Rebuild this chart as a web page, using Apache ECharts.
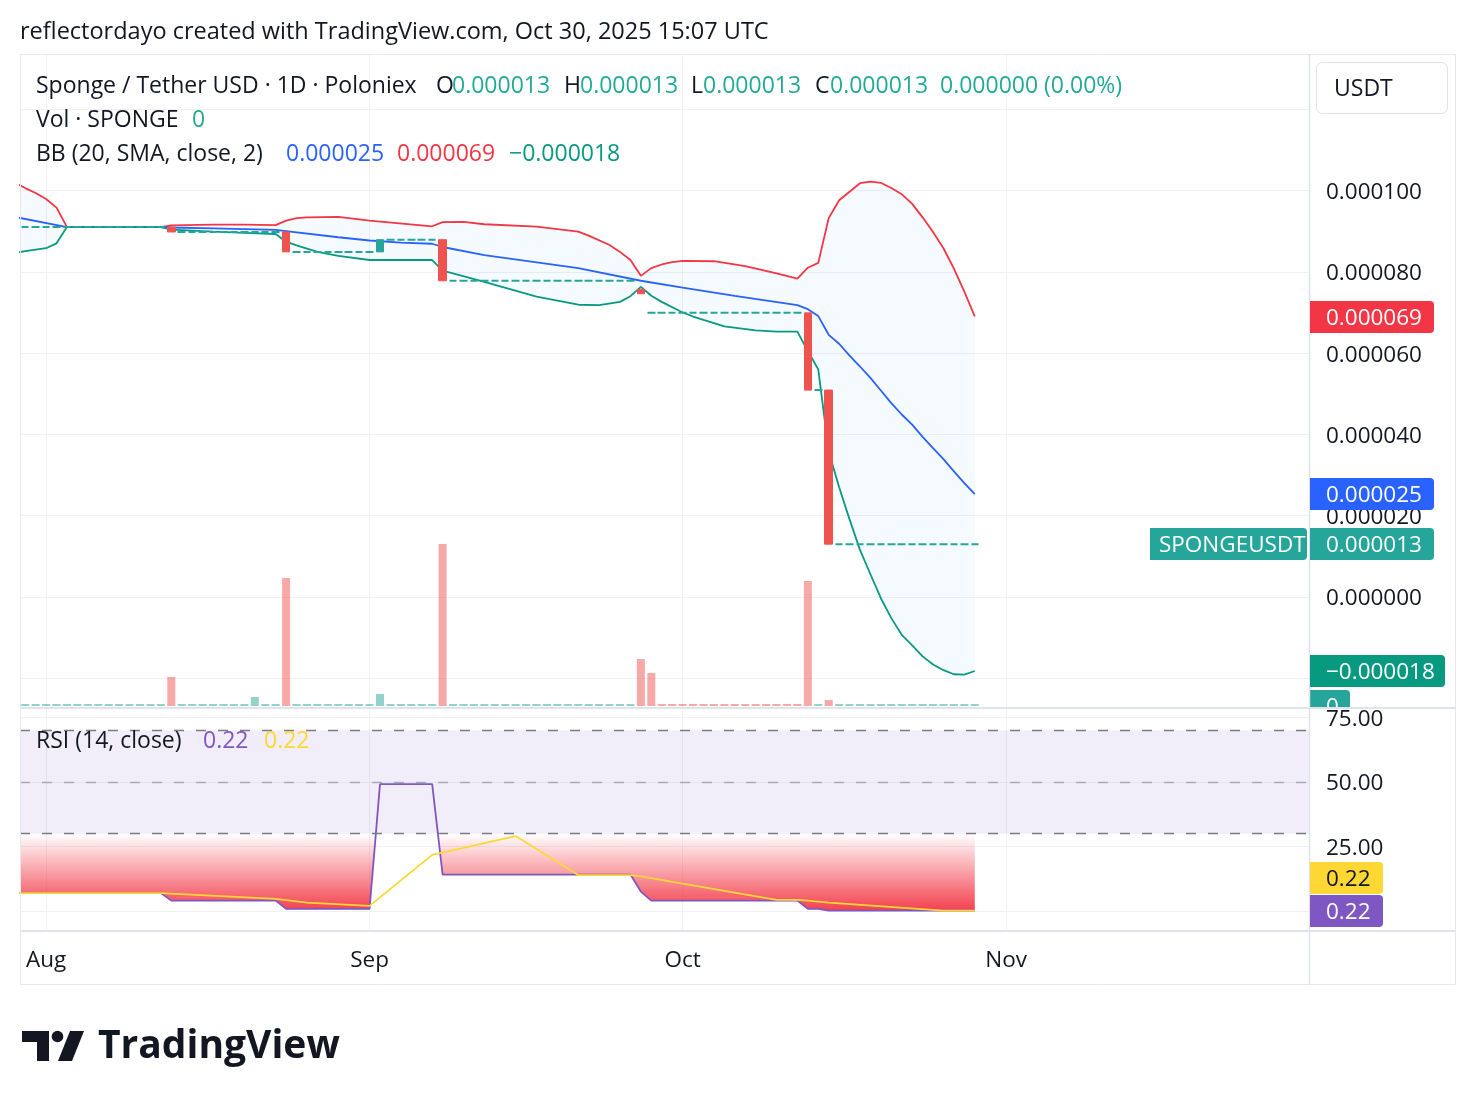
<!DOCTYPE html>
<html><head><meta charset="utf-8">
<script src="https://cdn.jsdelivr.net/npm/echarts@6/dist/echarts.min.js"></script>
<style>html,body{margin:0;padding:0;background:#fff}#c{width:1476px;height:1106px}</style>
</head><body><div id="c"></div><script>
// ---------------- DATA ----------------
const candleDates = [
'2025-07-30','2025-07-31',
'2025-08-01','2025-08-02','2025-08-03','2025-08-04','2025-08-05','2025-08-06','2025-08-07','2025-08-08','2025-08-09','2025-08-10','2025-08-11','2025-08-12','2025-08-13','2025-08-14','2025-08-15','2025-08-16','2025-08-17','2025-08-18','2025-08-19','2025-08-20','2025-08-21','2025-08-22','2025-08-23','2025-08-24','2025-08-25','2025-08-26','2025-08-27','2025-08-28','2025-08-29','2025-08-30','2025-08-31',
'2025-09-01','2025-09-02','2025-09-03','2025-09-04','2025-09-05','2025-09-06','2025-09-07','2025-09-08','2025-09-09','2025-09-10','2025-09-11','2025-09-12','2025-09-13','2025-09-14','2025-09-15','2025-09-16','2025-09-17','2025-09-18','2025-09-19','2025-09-20','2025-09-21','2025-09-22','2025-09-23','2025-09-24','2025-09-25','2025-09-26','2025-09-27','2025-09-28','2025-09-29','2025-09-30',
'2025-10-01','2025-10-02','2025-10-03','2025-10-04','2025-10-05','2025-10-06','2025-10-07','2025-10-08','2025-10-09','2025-10-10','2025-10-11','2025-10-12','2025-10-13','2025-10-14','2025-10-15','2025-10-16','2025-10-17','2025-10-18','2025-10-19','2025-10-20','2025-10-21','2025-10-22','2025-10-23','2025-10-24','2025-10-25','2025-10-26','2025-10-27','2025-10-28','2025-10-29'
];
const opens = [
91.0e-6,91.0e-6,
91.0e-6,91.0e-6,91.0e-6,91.0e-6,91.0e-6,91.0e-6,91.0e-6,91.0e-6,91.0e-6,91.0e-6,91.0e-6,91.0e-6,91.0e-6,89.8e-6,89.8e-6,89.8e-6,89.8e-6,89.8e-6,89.8e-6,89.8e-6,89.8e-6,89.8e-6,89.8e-6,89.8e-6,84.9e-6,84.9e-6,84.9e-6,84.9e-6,84.9e-6,84.9e-6,84.9e-6,
84.9e-6,84.9e-6,87.9e-6,87.9e-6,87.9e-6,87.9e-6,87.9e-6,87.9e-6,77.8e-6,77.8e-6,77.8e-6,77.8e-6,77.8e-6,77.8e-6,77.8e-6,77.8e-6,77.8e-6,77.8e-6,77.8e-6,77.8e-6,77.8e-6,77.8e-6,77.8e-6,77.8e-6,77.8e-6,77.8e-6,75.7e-6,69.9e-6,69.9e-6,69.9e-6,
69.9e-6,69.9e-6,69.9e-6,69.9e-6,69.9e-6,69.9e-6,69.9e-6,69.9e-6,69.9e-6,69.9e-6,69.9e-6,69.9e-6,69.9e-6,50.9e-6,50.9e-6,13.0e-6,13.0e-6,13.0e-6,13.0e-6,13.0e-6,13.0e-6,13.0e-6,13.0e-6,13.0e-6,13.0e-6,13.0e-6,13.0e-6,13.0e-6,13.0e-6
];
const closes = [
91.0e-6,91.0e-6,
91.0e-6,91.0e-6,91.0e-6,91.0e-6,91.0e-6,91.0e-6,91.0e-6,91.0e-6,91.0e-6,91.0e-6,91.0e-6,91.0e-6,89.8e-6,89.8e-6,89.8e-6,89.8e-6,89.8e-6,89.8e-6,89.8e-6,89.8e-6,89.8e-6,89.8e-6,89.8e-6,84.9e-6,84.9e-6,84.9e-6,84.9e-6,84.9e-6,84.9e-6,84.9e-6,84.9e-6,
84.9e-6,87.9e-6,87.9e-6,87.9e-6,87.9e-6,87.9e-6,87.9e-6,77.8e-6,77.8e-6,77.8e-6,77.8e-6,77.8e-6,77.8e-6,77.8e-6,77.8e-6,77.8e-6,77.8e-6,77.8e-6,77.8e-6,77.8e-6,77.8e-6,77.8e-6,77.8e-6,77.8e-6,77.8e-6,77.8e-6,74.6e-6,69.9e-6,69.9e-6,69.9e-6,
69.9e-6,69.9e-6,69.9e-6,69.9e-6,69.9e-6,69.9e-6,69.9e-6,69.9e-6,69.9e-6,69.9e-6,69.9e-6,69.9e-6,50.9e-6,50.9e-6,13.0e-6,13.0e-6,13.0e-6,13.0e-6,13.0e-6,13.0e-6,13.0e-6,13.0e-6,13.0e-6,13.0e-6,13.0e-6,13.0e-6,13.0e-6,13.0e-6,13.0e-6
];
const highs = [
91.0e-6,91.0e-6,
91.0e-6,91.0e-6,91.0e-6,91.0e-6,91.0e-6,91.0e-6,91.0e-6,91.0e-6,91.0e-6,91.0e-6,91.0e-6,91.0e-6,91.0e-6,89.8e-6,89.8e-6,89.8e-6,89.8e-6,89.8e-6,89.8e-6,89.8e-6,89.8e-6,89.8e-6,89.8e-6,89.8e-6,84.9e-6,84.9e-6,84.9e-6,84.9e-6,84.9e-6,84.9e-6,84.9e-6,
84.9e-6,87.9e-6,87.9e-6,87.9e-6,87.9e-6,87.9e-6,87.9e-6,87.9e-6,77.8e-6,77.8e-6,77.8e-6,77.8e-6,77.8e-6,77.8e-6,77.8e-6,77.8e-6,77.8e-6,77.8e-6,77.8e-6,77.8e-6,77.8e-6,77.8e-6,77.8e-6,77.8e-6,77.8e-6,77.8e-6,75.7e-6,69.9e-6,69.9e-6,69.9e-6,
69.9e-6,69.9e-6,69.9e-6,69.9e-6,69.9e-6,69.9e-6,69.9e-6,69.9e-6,69.9e-6,69.9e-6,69.9e-6,69.9e-6,69.9e-6,50.9e-6,50.9e-6,13.0e-6,13.0e-6,13.0e-6,13.0e-6,13.0e-6,13.0e-6,13.0e-6,13.0e-6,13.0e-6,13.0e-6,13.0e-6,13.0e-6,13.0e-6,13.0e-6
];
const lows = [
91.0e-6,91.0e-6,
91.0e-6,91.0e-6,91.0e-6,91.0e-6,91.0e-6,91.0e-6,91.0e-6,91.0e-6,91.0e-6,91.0e-6,91.0e-6,91.0e-6,89.8e-6,89.8e-6,89.8e-6,89.8e-6,89.8e-6,89.8e-6,89.8e-6,89.8e-6,89.8e-6,89.8e-6,89.8e-6,84.9e-6,84.9e-6,84.9e-6,84.9e-6,84.9e-6,84.9e-6,84.9e-6,84.9e-6,
84.9e-6,84.9e-6,87.9e-6,87.9e-6,87.9e-6,87.9e-6,87.9e-6,77.8e-6,77.8e-6,77.8e-6,77.8e-6,77.8e-6,77.8e-6,77.8e-6,77.8e-6,77.8e-6,77.8e-6,77.8e-6,77.8e-6,77.8e-6,77.8e-6,77.8e-6,77.8e-6,77.8e-6,77.8e-6,77.8e-6,74.6e-6,69.9e-6,69.9e-6,69.9e-6,
69.9e-6,69.9e-6,69.9e-6,69.9e-6,69.9e-6,69.9e-6,69.9e-6,69.9e-6,69.9e-6,69.9e-6,69.9e-6,69.9e-6,50.9e-6,50.9e-6,13.0e-6,13.0e-6,13.0e-6,13.0e-6,13.0e-6,13.0e-6,13.0e-6,13.0e-6,13.0e-6,13.0e-6,13.0e-6,13.0e-6,13.0e-6,13.0e-6,13.0e-6
];
const volumes = [
0,0,
0,0,0,0,0,0,0,0,0,0,0,0,2900,0,0,0,0,0,0,0,900,0,0,12800,0,0,0,0,0,0,0,
0,1200,0,0,0,0,0,16200,0,0,0,0,0,0,0,0,0,0,0,0,0,0,0,0,0,0,4700,3300,0,0,
0,0,0,0,0,0,0,0,0,0,0,0,12500,0,600,0,0,0,0,0,0,0,0,0,0,0,0,0,0
];
const volUp = [
1,1,
1,1,1,1,1,1,1,1,1,1,1,1,0,1,1,1,1,1,1,1,1,1,1,0,1,1,1,1,1,1,1,
1,1,1,1,1,1,1,0,1,1,1,1,1,1,1,1,1,1,1,1,1,1,1,1,1,1,0,0,0,0,
0,0,0,0,0,0,0,0,0,0,0,0,0,1,0,1,1,1,1,1,1,1,1,1,1,1,1,1,1
];
const bbUpper = [['2025-07-29',102.0e-6],['2025-07-30',100.6e-6],['2025-07-31',99.4e-6],['2025-08-01',97.9e-6],['2025-08-02',95.8e-6],['2025-08-03',91.0e-6],['2025-08-12',91.0e-6],['2025-08-13',91.4e-6],['2025-08-17',91.6e-6],['2025-08-20',91.6e-6],['2025-08-23',91.5e-6],['2025-08-24',92.6e-6],['2025-08-25',93.2e-6],['2025-08-26',93.4e-6],['2025-08-29',93.5e-6],['2025-09-01',92.6e-6],['2025-09-07',91.2e-6],['2025-09-08',92.2e-6],['2025-09-10',92.3e-6],['2025-09-12',91.7e-6],['2025-09-17',91.1e-6],['2025-09-21',89.9e-6],['2025-09-22',88.9e-6],['2025-09-24',86.6e-6],['2025-09-25',84.9e-6],['2025-09-26',82.9e-6],['2025-09-27',79.0e-6],['2025-09-28',80.9e-6],['2025-09-29',81.8e-6],['2025-09-30',82.4e-6],['2025-10-01',82.7e-6],['2025-10-04',82.6e-6],['2025-10-07',81.4e-6],['2025-10-10',79.6e-6],['2025-10-12',78.3e-6],['2025-10-13',81.0e-6],['2025-10-14',82.2e-6],['2025-10-15',93.2e-6],['2025-10-16',97.6e-6],['2025-10-17',99.7e-6],['2025-10-18',101.8e-6],['2025-10-19',102.2e-6],['2025-10-20',101.9e-6],['2025-10-21',100.6e-6],['2025-10-22',99.1e-6],['2025-10-23',96.7e-6],['2025-10-24',93.4e-6],['2025-10-25',89.8e-6],['2025-10-26',85.8e-6],['2025-10-27',80.8e-6],['2025-10-28',75.1e-6],['2025-10-29',69.0e-6]];
const bbBasis = [['2025-07-29',93.5e-6],['2025-08-03',91.0e-6],['2025-08-12',91.0e-6],['2025-08-13',90.9e-6],['2025-08-17',90.7e-6],['2025-08-23',90.3e-6],['2025-08-24',90.0e-6],['2025-08-29',88.5e-6],['2025-09-01',87.7e-6],['2025-09-04',87.2e-6],['2025-09-07',86.9e-6],['2025-09-08',86.1e-6],['2025-09-12',84.1e-6],['2025-09-21',80.9e-6],['2025-09-27',77.8e-6],['2025-10-01',76.1e-6],['2025-10-06',74.1e-6],['2025-10-12',71.8e-6],['2025-10-13',70.8e-6],['2025-10-14',69.1e-6],['2025-10-15',64.5e-6],['2025-10-16',62.3e-6],['2025-10-17',59.4e-6],['2025-10-18',56.7e-6],['2025-10-19',53.9e-6],['2025-10-20',50.8e-6],['2025-10-21',47.7e-6],['2025-10-22',44.9e-6],['2025-10-23',42.4e-6],['2025-10-24',39.4e-6],['2025-10-25',36.6e-6],['2025-10-26',33.9e-6],['2025-10-27',30.9e-6],['2025-10-28',28.0e-6],['2025-10-29',25.3e-6]];
const bbLower = [['2025-07-29',84.6e-6],['2025-07-30',85.1e-6],['2025-08-01',85.8e-6],['2025-08-02',87.0e-6],['2025-08-03',91.0e-6],['2025-08-12',91.0e-6],['2025-08-13',90.4e-6],['2025-08-17',89.9e-6],['2025-08-20',89.6e-6],['2025-08-23',89.3e-6],['2025-08-24',87.4e-6],['2025-08-25',86.5e-6],['2025-08-27',84.9e-6],['2025-08-29',83.9e-6],['2025-09-01',82.9e-6],['2025-09-07',82.9e-6],['2025-09-08',80.3e-6],['2025-09-12',77.5e-6],['2025-09-17',73.9e-6],['2025-09-21',71.9e-6],['2025-09-23',71.8e-6],['2025-09-25',72.6e-6],['2025-09-26',74.0e-6],['2025-09-27',76.3e-6],['2025-09-28',74.1e-6],['2025-09-29',72.6e-6],['2025-10-01',70.0e-6],['2025-10-02',69.0e-6],['2025-10-05',66.6e-6],['2025-10-08',65.6e-6],['2025-10-10',65.3e-6],['2025-10-12',65.3e-6],['2025-10-13',60.5e-6],['2025-10-14',56.0e-6],['2025-10-15',35.8e-6],['2025-10-16',27.0e-6],['2025-10-17',19.1e-6],['2025-10-18',11.6e-6],['2025-10-19',5.6e-6],['2025-10-20',-0.3e-6],['2025-10-21',-5.2e-6],['2025-10-22',-9.3e-6],['2025-10-23',-11.9e-6],['2025-10-24',-14.6e-6],['2025-10-25',-16.6e-6],['2025-10-26',-18.0e-6],['2025-10-27',-19.0e-6],['2025-10-28',-19.1e-6],['2025-10-29',-18.2e-6]];
const rsiValues = [['2025-07-29',7.0],['2025-08-12',7.0],['2025-08-13',4.1],['2025-08-23',4.1],['2025-08-24',0.9],['2025-09-01',0.9],['2025-09-02',49.2],['2025-09-07',49.2],['2025-09-08',14.2],['2025-09-26',14.2],['2025-09-27',7.6],['2025-09-28',4.1],['2025-10-12',4.1],['2025-10-13',0.9],['2025-10-14',0.9],['2025-10-15',0.22],['2025-10-29',0.22]];
const rsiMa = [['2025-07-29',7.0],['2025-08-12',7.0],['2025-08-23',4.8],['2025-08-26',3.3],['2025-09-01',2.05],['2025-09-07',21.8],['2025-09-15',29.1],['2025-09-21',14.0],['2025-09-26',14.0],['2025-09-27',13.5],['2025-10-10',4.4],['2025-10-12',4.4],['2025-10-13',4.1],['2025-10-15',3.3],['2025-10-26',0.25],['2025-10-29',0.22]];
const rsiLevels = [70, 50, 30];
const monthTicks = ['2025-08-01','2025-09-01','2025-10-01','2025-11-01'];
const monthNames = ['Aug','Sep','Oct','Nov'];
const priceGridTicks = [-20e-6, 0, 20e-6, 40e-6, 60e-6, 80e-6, 100e-6, 120e-6];
const priceLabelTicks = [-20e-6, 0, 20e-6, 40e-6, 60e-6, 80e-6, 100e-6];
const rsiGridTicks = [0, 25, 50, 75];
const rsiLabelTicks = [25, 50, 75];

// ---------------- HELPERS ----------------
const FONT = '"Open Sans"';
const TXT = '#131722';
const UP = '#26a69a', DN = '#ef5350';
const axisOrigin = '2025-07-29';
const T0 = Date.parse(axisOrigin + 'T00:00:00Z');
const dayIdx = d => Math.round((Date.parse(d + 'T00:00:00Z') - T0) / 86400000);
const toXY = arr => arr.map(p => [dayIdx(p[0]), p[1]]);
const fmtP = v => (Math.abs(v) < 1e-12 ? 0 : v).toFixed(6).replace('-', '\u2212');
const X_MIN = 0.5, X_MAX = 124.03;
const monthIdx = monthTicks.map(dayIdx);
const monthMap = {}; monthIdx.forEach((k, i) => monthMap[k] = monthNames[i]);

const upperXY = toXY(bbUpper), basisXY = toXY(bbBasis), lowerXY = toXY(bbLower);
const rsiXY = toXY(rsiValues), rsiMaXY = toXY(rsiMa);

// clamp RSI under 30 (with crossing points) for the oversold fill
function clampBelow(arr, lvl) {
  const out = [];
  for (let j = 0; j < arr.length; j++) {
    const [x, v] = arr[j];
    if (j > 0) {
      const [px, pv] = arr[j - 1];
      if ((pv - lvl) * (v - lvl) < 0) { const t = (lvl - pv) / (v - pv); out.push([px + t * (x - px), lvl]); }
    }
    out.push([x, Math.min(v, lvl)]);
  }
  return out;
}
const rsiClamped = clampBelow(rsiXY, 30);

const candleData = candleDates.map((d, i) => {
  const item = { value: [dayIdx(d), opens[i], closes[i], lows[i], highs[i]] };
  if (opens[i] === closes[i]) item.itemStyle = { borderWidth: 2 };
  return item;
});
const volData = candleDates.map((d, i) => ({
  value: [dayIdx(d), volumes[i]],
  itemStyle: { color: volUp[i] ? 'rgba(38,166,154,0.5)' : 'rgba(239,83,80,0.5)' }
}));

const VMAX = 65200;
const gridLine = { show: true, lineStyle: { color: '#eff1f4', width: 1 } };
const axisLbl = { fontFamily: FONT, fontSize: 22.5, color: TXT };

const option = {
  animation: false,
  backgroundColor: '#ffffff',
  grid: [
    { left: 20, top: 54, width: 1289, height: 653 },
    { left: 20, top: 54, width: 1289, height: 652 },
    { left: 20, top: 708, width: 1289, height: 222 },
    { left: 1309, top: 54, width: 147, height: 653 }
  ],
  xAxis: [
    { gridIndex: 0, type: 'value', min: X_MIN, max: X_MAX, axisLine: { show: false },
      axisTick: { show: false, customValues: monthIdx }, axisLabel: { show: false }, splitLine: gridLine },
    { gridIndex: 1, type: 'value', min: X_MIN, max: X_MAX, show: false },
    { gridIndex: 2, type: 'value', min: X_MIN, max: X_MAX, position: 'bottom', axisLine: { show: false },
      axisTick: { show: false, customValues: monthIdx },
      axisLabel: Object.assign({ customValues: monthIdx, margin: 19, formatter: v => monthMap[Math.round(v)] || '' }, axisLbl),
      splitLine: gridLine },
    { gridIndex: 3, type: 'value', min: 0, max: 1, show: false }
  ],
  yAxis: [
    { gridIndex: 0, type: 'value', position: 'right', min: -27.06e-6, max: 133.58e-6, axisLine: { show: false },
      axisTick: { show: false, customValues: priceGridTicks },
      axisLabel: Object.assign({ customValues: priceLabelTicks, margin: 17, align: 'left', verticalAlign: 'top', lineHeight: 4, formatter: fmtP }, axisLbl),
      splitLine: gridLine },
    { gridIndex: 1, type: 'value', min: 0, max: VMAX, show: false },
    { gridIndex: 2, type: 'value', position: 'right', min: -7.27, max: 78.65, axisLine: { show: false },
      axisTick: { show: false, customValues: rsiGridTicks },
      axisLabel: Object.assign({ customValues: rsiLabelTicks, margin: 17, align: 'left', verticalAlign: 'top', lineHeight: 4, formatter: v => v.toFixed(2) }, axisLbl),
      splitLine: gridLine },
    { gridIndex: 3, type: 'value', min: 0, max: VMAX, show: false }
  ],
  series: [
    { type: 'custom', name: 'BB band', xAxisIndex: 0, yAxisIndex: 0, clip: true, silent: true, z: 1,
      data: [[upperXY[0][0], upperXY[0][1]]],
      renderItem: (params, api) => {
        const pts = upperXY.map(p => api.coord(p));
        for (let j = lowerXY.length - 1; j >= 0; j--) pts.push(api.coord(lowerXY[j]));
        return { type: 'polygon', shape: { points: pts }, style: { fill: 'rgba(33,150,243,0.05)' } };
      } },
    { type: 'bar', name: 'Volume', xAxisIndex: 1, yAxisIndex: 1, barWidth: 8, barMinHeight: 2, silent: true, z: 1,
      data: volData },
    { type: 'line', name: 'Upper', xAxisIndex: 0, yAxisIndex: 0, data: upperXY, showSymbol: false, symbol: 'none', silent: true, z: 3,
      lineStyle: { color: '#f23645', width: 1.8 } },
    { type: 'line', name: 'Basis', xAxisIndex: 0, yAxisIndex: 0, data: basisXY, showSymbol: false, symbol: 'none', silent: true, z: 3,
      lineStyle: { color: '#2962ff', width: 1.8 } },
    { type: 'line', name: 'Lower', xAxisIndex: 0, yAxisIndex: 0, data: lowerXY, showSymbol: false, symbol: 'none', silent: true, z: 3,
      lineStyle: { color: '#089981', width: 1.8 } },
    { type: 'candlestick', name: 'SPONGEUSDT', xAxisIndex: 0, yAxisIndex: 0, barWidth: 8, silent: true, z: 5,
      encode: { x: 0, y: [1, 2, 3, 4] }, data: candleData,
      itemStyle: { color: UP, color0: DN, borderColor: UP, borderColor0: DN, borderColorDoji: UP, borderWidth: 1 } },
    { type: 'custom', name: 'RSI fill', xAxisIndex: 2, yAxisIndex: 2, clip: true, silent: true, z: 1,
      data: [[rsiClamped[0][0], 30]],
      renderItem: (params, api) => {
        const pts = rsiClamped.map(p => api.coord(p));
        pts.push(api.coord([rsiClamped[rsiClamped.length - 1][0], 30]));
        pts.push(api.coord([rsiClamped[0][0], 30]));
        return { type: 'polygon', shape: { points: pts }, style: {
          fill: new echarts.graphic.LinearGradient(0, 0, 0, 1, [
            { offset: 0, color: 'rgba(242,54,69,0)' }, { offset: 1, color: 'rgba(242,54,69,0.95)' }]) } };
      } },
    { type: 'line', name: 'RSI', xAxisIndex: 2, yAxisIndex: 2, data: rsiXY, showSymbol: false, symbol: 'none', silent: true, z: 3,
      lineStyle: { color: '#7e57c2', width: 1.8 },
      markArea: { silent: true, itemStyle: { color: 'rgba(126,87,194,0.1)' }, data: [[{ yAxis: rsiLevels[2] }, { yAxis: rsiLevels[0] }]] },
      markLine: { silent: true, symbol: 'none', label: { show: false }, emphasis: { disabled: true },
        data: [
          { yAxis: rsiLevels[0], lineStyle: { color: '#787b86', type: [10, 12], width: 1.4 } },
          { yAxis: rsiLevels[1], lineStyle: { color: 'rgba(120,123,134,0.55)', type: [10, 12], width: 1.4 } },
          { yAxis: rsiLevels[2], lineStyle: { color: '#787b86', type: [10, 12], width: 1.4 } }
        ] } },
    { type: 'line', name: 'RSI MA', xAxisIndex: 2, yAxisIndex: 2, data: rsiMaXY, showSymbol: false, symbol: 'none', silent: true, z: 4,
      lineStyle: { color: '#fdd835', width: 1.8 } },
    { type: 'custom', name: 'Vol tag', xAxisIndex: 3, yAxisIndex: 3, clip: true, silent: true, z: 10,
      data: [[0, volumes[volumes.length - 1]]],
      renderItem: (params, api) => {
        const p = api.coord([0, api.value(1)]);
        return { type: 'group', children: [
          { type: 'rect', shape: { x: p[0] + 1, y: p[1] - 17, width: 40, height: 32, r: [0, 4, 4, 0] }, style: { fill: UP } },
          { type: 'text', style: { text: String(api.value(1)), x: p[0] + 17, y: p[1] + 0.5, fill: '#fff', font: '22.5px ' + FONT, verticalAlign: 'middle' } }
        ] };
      } }
  ]
};

const chart = echarts.init(document.getElementById('c'));
chart.setOption(option);

// ---------------- OVERLAYS (labels, frame, legend) ----------------
const py = v => chart.convertToPixel({ yAxisIndex: 0 }, v);
const ry = v => chart.convertToPixel({ yAxisIndex: 2 }, v);
const n = closes.length - 1;
const lastU = bbUpper[bbUpper.length - 1][1], lastB = bbBasis[bbBasis.length - 1][1], lastL = bbLower[bbLower.length - 1][1];
const lastR = rsiValues[rsiValues.length - 1][1], lastM = rsiMa[rsiMa.length - 1][1];
const chg = closes[n] - closes[n - 1];
const DY = 1.8; // text baseline nudge

const g = [];
const txt = (x, y, s, color, size, weight) => g.push({ type: 'text', x: x, y: y + DY, z: 100,
  style: { text: s, fill: color, font: (weight ? weight + ' ' : '') + (size || 23) + 'px ' + FONT, verticalAlign: 'middle' } });
function tag(x, yc, w, bg, fg, s, tx) {
  g.push({ type: 'rect', z: 100, shape: { x: x, y: Math.round(yc) - 16, width: w, height: 32, r: [0, 4, 4, 0] }, style: { fill: bg } });
  g.push({ type: 'text', z: 101, x: tx, y: Math.round(yc) + 1.5, style: { text: s, fill: fg, font: '22.5px ' + FONT, verticalAlign: 'middle' } });
}
// frame
const frameCol = '#e6e8ec';
g.push({ type: 'rect', z: 90, shape: { x: 20.5, y: 54.5, width: 1435, height: 930 }, style: { fill: null, stroke: frameCol, lineWidth: 1 } });
g.push({ type: 'line', z: 90, shape: { x1: 1309.5, y1: 54, x2: 1309.5, y2: 985 }, style: { stroke: '#e0e3eb', lineWidth: 1.5 } });
g.push({ type: 'line', z: 90, shape: { x1: 20, y1: 708, x2: 1456, y2: 708 }, style: { stroke: '#e0e3eb', lineWidth: 2 } });
g.push({ type: 'line', z: 90, shape: { x1: 20, y1: 931, x2: 1456, y2: 931 }, style: { stroke: '#e0e3eb', lineWidth: 2 } });
// currency box
g.push({ type: 'rect', z: 100, shape: { x: 1316.5, y: 62.5, width: 131, height: 51, r: 6 }, style: { fill: '#fff', stroke: '#e0e3eb', lineWidth: 1 } });
txt(1334, 88, 'USDT', TXT, 23);
// price tags
tag(1310, py(lastU), 124, '#f23645', '#fff', fmtP(lastU), 1326);
tag(1310, py(lastB), 124, '#2962ff', '#fff', fmtP(lastB), 1326);
tag(1310, py(closes[n]), 124, UP, '#fff', fmtP(closes[n]), 1326);
tag(1150, py(closes[n]), 157, UP, '#fff', 'SPONGEUSDT', 1159);
tag(1310, py(lastL), 135, '#089981', '#fff', fmtP(lastL), 1326);
// RSI tags (stacked to avoid overlap)
const rY = ry(lastR);
tag(1310, rY, 73, '#7e57c2', '#fff', lastR.toFixed(2), 1326);
tag(1310, rY - 33, 73, '#fdd835', TXT, lastM.toFixed(2), 1326);
// header
txt(20, 31, 'reflectordayo created with TradingView.com, Oct 30, 2025 15:07 UTC', TXT, 23.5);
// legend line 1
txt(36, 85, 'Sponge / Tether USD \u00b7 1D \u00b7 Poloniex', TXT, 23);
const legC = '#22ab94';
txt(436, 85, 'O', TXT, 23); txt(452, 85, fmtP(opens[n]), legC, 23);
txt(564, 85, 'H', TXT, 23); txt(580, 85, fmtP(highs[n]), legC, 23);
txt(691, 85, 'L', TXT, 23); txt(703, 85, fmtP(lows[n]), legC, 23);
txt(815, 85, 'C', TXT, 23); txt(830, 85, fmtP(closes[n]), legC, 23);
txt(940, 85, fmtP(chg) + ' (' + (chg / closes[n - 1] * 100).toFixed(2) + '%)', legC, 23);
// legend line 2
txt(36, 119, 'Vol \u00b7 SPONGE', TXT, 23); txt(192, 119, String(volumes[n]), legC, 23);
// legend line 3
txt(36, 153, 'BB (20, SMA, close, 2)', TXT, 23);
txt(286, 153, fmtP(lastB), '#2962ff', 23);
txt(397, 153, fmtP(lastU), '#f23645', 23);
txt(509, 153, fmtP(lastL), '#089981', 23);
// RSI legend
txt(36, 740, 'RSI (14, close)', TXT, 23);
txt(203, 740, lastR.toFixed(2), '#7e57c2', 23);
txt(264, 740, lastM.toFixed(2), '#fdd835', 23);
// TradingView logo
g.push({ type: 'polygon', z: 100, shape: { points: [[22,1031],[49,1031],[49,1061],[37,1061],[37,1042],[22,1042]] }, style: { fill: TXT } });
g.push({ type: 'circle', z: 100, shape: { cx: 57.5, cy: 1036.5, r: 5.8 }, style: { fill: TXT } });
g.push({ type: 'polygon', z: 100, shape: { points: [[70,1031],[84,1031],[72,1061],[58,1061]] }, style: { fill: TXT } });
txt(98, 1045, 'TradingView', TXT, 39, 'bold');

chart.setOption({ graphic: g });
</script></body></html>
